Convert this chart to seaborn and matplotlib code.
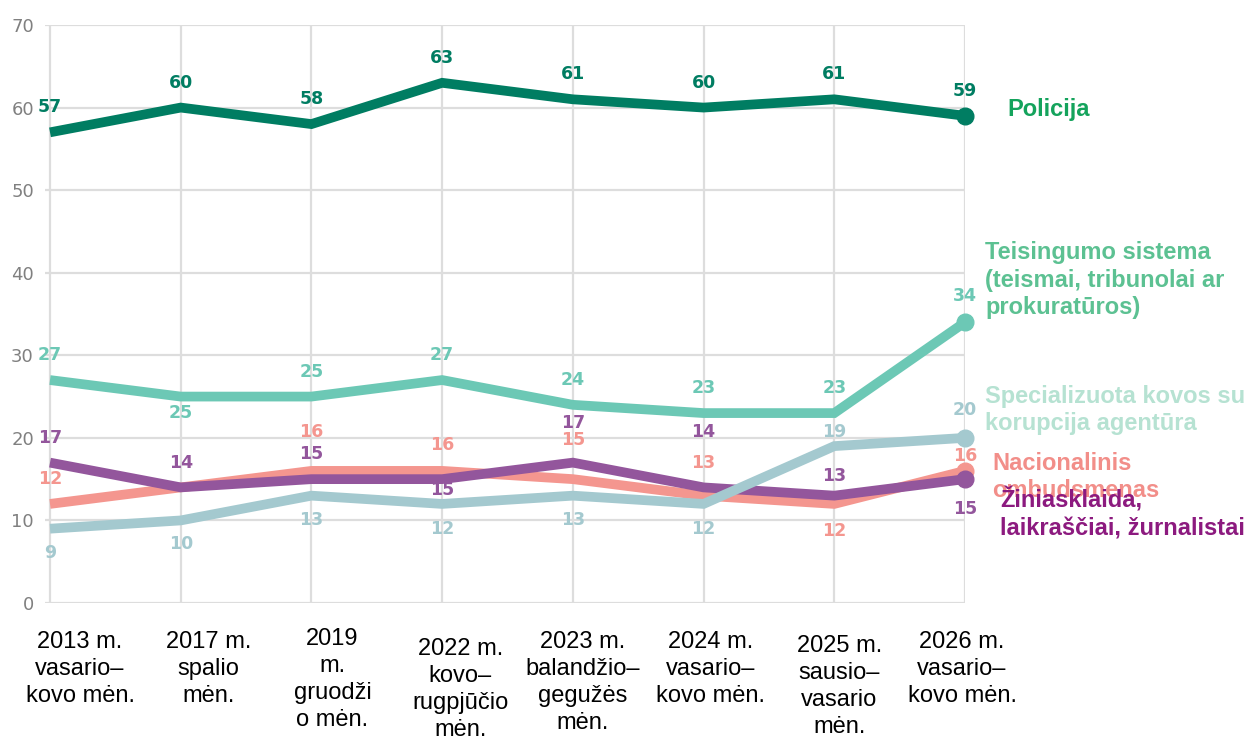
import pandas as pd
import seaborn as sns
import matplotlib.pyplot as plt

periods = ["2013 m.\nvasario–\nkovo mėn.", "2017 m.\nspalio\nmėn.", "2019\nm.\ngruodži\no mėn.",
           "2022 m.\nkovo–\nrugpjūčio\nmėn.", "2023 m.\nbalandžio–\ngegužės\nmėn.",
           "2024 m.\nvasario–\nkovo mėn.", "2025 m.\nsausio–\nvasario\nmėn.", "2026 m.\nvasario–\nkovo mėn."]

policija = [57, 60, 58, 63, 61, 60, 61, 59]
teisingumo = [27, 25, 25, 27, 24, 23, 23, 34]
specializuota = [9, 10, 13, 12, 13, 12, 19, 20]
ombudsmenas = [12, 14, 16, 16, 15, 13, 12, 16]
ziniasklaida = [17, 14, 15, 15, 17, 14, 13, 15]

names = ["Policija",
         "Teisingumo sistema\n(teismai, tribunolai ar\nprokuratūros)",
         "Specializuota kovos su\nkorupcija agentūra",
         "Nacionalinis\nombudsmenas",
         "Žiniasklaida,\nlaikraščiai, žurnalistai"]

# styles: line colour, name colour, label offsets (px), name offset (px), zorder
styles = {
    names[0]: dict(vals=policija, c="#007d62", tc="#14a35c",
                   dy=[25] * 8, skip=[], name_off=(42, 6), z=6),
    names[1]: dict(vals=teisingumo, c="#6cc8b5", tc="#5cc192",
                   dy=[25, -16, 25, 25, 25, 25, 25, 26], skip=[], name_off=(20, 42), z=5),
    names[2]: dict(vals=specializuota, c="#a4c9cf", tc="#b6e2d2",
                   dy=[-24, -24, -24, -25, -24, -25, 14, 28], skip=[], name_off=(20, 28), z=4),
    names[3]: dict(vals=ombudsmenas, c="#f4968f", tc="#f28e89",
                   dy=[25, 0, 39, 26, 39, 33, -27, 15], skip=[1], name_off=(27, -6), z=2),
    names[4]: dict(vals=ziniasklaida, c="#93569c", tc="#8c1a7f",
                   dy=[25, 24, 25, -11, 40, 55, 20, -30], skip=[], name_off=(35, -35), z=3),
}

# category label shifts (px) relative to tick position
lab_dx = [30, 28, 21, 18, 10, 7, 5, -3]
lab_dy = [28, 28, 25, 35, 28, 28, 32, 28]

sns.set_style("white")
plt.rcParams['font.family'] = ['Liberation Sans', 'DejaVu Sans']

fig = plt.figure(figsize=(12.51, 7.37), dpi=100)
ax = fig.add_axes([45 / 1251, 1 - 603 / 737, (965 - 45) / 1251, (603 - 25) / 737])

px = 72 / 100
for name, s in styles.items():
    df = pd.DataFrame({"x": range(len(periods)), "y": s["vals"]})
    sns.lineplot(data=df, x="x", y="y", ax=ax, color=s["c"], lw=7, zorder=s["z"],
                 solid_joinstyle="miter", solid_capstyle="butt")
    ax.plot(df["x"].iloc[-1], df["y"].iloc[-1], "o", color=s["c"], ms=12,
            zorder=s["z"], clip_on=False)
    for i, v in enumerate(s["vals"]):
        if i in s["skip"]:
            continue
        ax.annotate(str(v), (i, v), xytext=(0, s["dy"][i] * px), textcoords="offset points",
                    ha="center", va="center", color=s["c"], fontsize=12.5,
                    fontweight="bold", family="DejaVu Sans", zorder=10)
    dx, dy = s["name_off"]
    ax.annotate(name, (len(periods) - 1, s["vals"][-1]), xytext=(dx * px, dy * px),
                textcoords="offset points", ha="left", va="center", color=s["tc"],
                fontsize=17, fontweight="bold", linespacing=1.25, annotation_clip=False)

ax.set_xlim(-5 / 130.7, 7)
ax.set_ylim(0, 70)
ax.set_yticks(range(0, 71, 10))
ax.set_xticks(range(len(periods)))
ax.set_xticklabels([])
for i, lab in enumerate(periods):
    ax.annotate(lab, (i, 0), xytext=(lab_dx[i] * px, -lab_dy[i] * px),
                textcoords="offset points", ha="center", va="top", fontsize=17,
                linespacing=1.3, color="black", annotation_clip=False)
ax.tick_params(axis="x", length=0)
ax.tick_params(axis="y", length=0, pad=8, labelsize=13, labelcolor="#808080")
for lbl in ax.get_yticklabels():
    lbl.set_family("DejaVu Sans")
ax.grid(True, color="#dddddd", lw=1.6)
ax.set_axisbelow(True)
for sp in ax.spines.values():
    sp.set_visible(False)
ax.set_xlabel("")
ax.set_ylabel("")

fig.savefig("out.png", dpi=100)
